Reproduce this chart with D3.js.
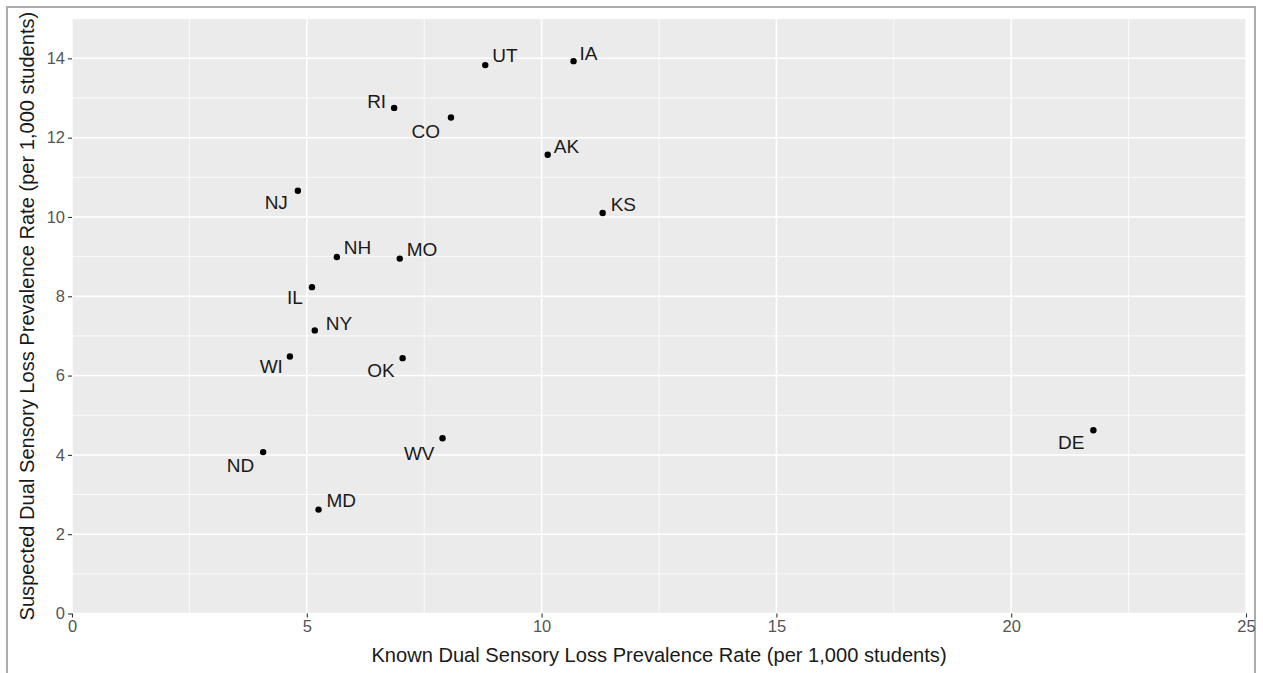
<!DOCTYPE html>
<html>
<head>
<meta charset="utf-8">
<script src="https://cdn.jsdelivr.net/npm/d3@7"></script>
<style>
  body { margin: 0; background: #fff; }
  svg text { font-family: "Liberation Sans", Arial, sans-serif; }
  .axis-title { fill: #1a1a1a; font-size: 20.1px; }
  .pt-label { fill: #1a1a1a; font-size: 19px; }
</style>
</head>
<body>
<svg id="chart"></svg>
<script>
// data
const states = ["UT", "IA", "RI", "CO", "AK", "KS", "NJ", "NH", "MO", "IL", "NY", "WI", "OK", "ND", "MD", "WV", "DE"];
const knownRate = [8.80, 10.68, 6.86, 8.07, 10.13, 11.30, 4.81, 5.64, 6.98, 5.11, 5.17, 4.64, 7.04, 4.07, 5.25, 7.89, 21.75];
const suspectedRate = [13.83, 13.93, 12.75, 12.51, 11.57, 10.10, 10.66, 8.99, 8.95, 8.23, 7.14, 6.48, 6.44, 4.07, 2.62, 4.42, 4.62];
const xTicks = [0, 5, 10, 15, 20, 25];
const yTicks = [0, 2, 4, 6, 8, 10, 12, 14];

// label nudges (px) roughly as placed in the original (repel-style)
const labelNudge = [[7, -10], [6, -8], [-8, -7], [-11, 14], [6, -9], [8, -9], [-10, 11], [7, -10], [7, -9],
                    [-9, 10], [11, -7], [-7, 10], [-8, 12], [-9, 13], [8, -9], [-8, 15], [-9, 12]];

const W = 1263, H = 673;
const margin = {top: 18.7, right: 17, bottom: 59.5, left: 72};
const width = W - margin.left - margin.right;
const height = H - margin.top - margin.bottom;

const svg = d3.select('#chart').attr('width', W).attr('height', H);

// outer frame
svg.append('rect')
  .attr('x', 7).attr('y', 7).attr('width', 1248).attr('height', 680)
  .attr('fill', 'none').attr('stroke', '#ababab').attr('stroke-width', 2);

const chart = svg.append('g').attr('transform', `translate(${margin.left},${margin.top})`);

const x = d3.scaleLinear().domain([0, 25]).range([0, width]);
const y = d3.scaleLinear().domain([0, 15]).range([height, 0]);

chart.append('rect').attr('width', width).attr('height', height).attr('fill', '#ebebeb');

// minor grid
const xMinor = d3.range(2.5, 25, 5);
const yMinor = d3.range(1, 16, 2);
chart.selectAll('.vminor').data(xMinor).join('line')
  .attr('x1', d => x(d)).attr('x2', d => x(d)).attr('y1', 0).attr('y2', height)
  .attr('stroke', '#fff').attr('stroke-width', 0.8);
chart.selectAll('.hminor').data(yMinor).join('line')
  .attr('y1', d => y(d)).attr('y2', d => y(d)).attr('x1', 0).attr('x2', width)
  .attr('stroke', '#fff').attr('stroke-width', 0.8);

// major grid
chart.selectAll('.vmajor').data(xTicks).join('line')
  .attr('x1', d => x(d)).attr('x2', d => x(d)).attr('y1', 0).attr('y2', height)
  .attr('stroke', '#fff').attr('stroke-width', 1.5);
chart.selectAll('.hmajor').data(yTicks).join('line')
  .attr('y1', d => y(d)).attr('y2', d => y(d)).attr('x1', 0).attr('x2', width)
  .attr('stroke', '#fff').attr('stroke-width', 1.5);

// axes
const xAxis = d3.axisBottom(x).tickValues(xTicks).tickSize(4).tickPadding(3).tickSizeOuter(0);
const yAxis = d3.axisLeft(y).tickValues(yTicks).tickSize(4).tickPadding(3).tickSizeOuter(0);

const xAxisG = chart.append('g').attr('transform', `translate(0,${height})`).call(xAxis);
const yAxisG = chart.append('g').call(yAxis);
[xAxisG, yAxisG].forEach(g => {
  g.select('.domain').remove();
  g.selectAll('.tick line').attr('stroke', '#333').attr('stroke-width', 1.1);
  g.selectAll('.tick text')
    .style('font-size', '16.5px')
    .style('font-family', '"Liberation Sans", Arial, sans-serif')
    .style('fill', '#555');
});

// axis titles
chart.append('text')
  .attr('class', 'axis-title')
  .attr('text-anchor', 'middle')
  .attr('x', width / 2)
  .attr('y', height + 49)
  .text('Known Dual Sensory Loss Prevalence Rate (per 1,000 students)');

chart.append('text')
  .attr('class', 'axis-title')
  .attr('text-anchor', 'middle')
  .attr('transform', 'rotate(-90)')
  .attr('x', -height / 2)
  .attr('y', -38)
  .text('Suspected Dual Sensory Loss Prevalence Rate (per 1,000 students)');

// points
const idx = d3.range(states.length);
chart.selectAll('.pt').data(idx).join('circle')
  .attr('class', 'pt')
  .attr('cx', i => x(knownRate[i]))
  .attr('cy', i => y(suspectedRate[i]))
  .attr('r', 3.2)
  .attr('fill', '#000');

chart.selectAll('.pt-label').data(idx).join('text')
  .attr('class', 'pt-label')
  .attr('x', i => x(knownRate[i]) + labelNudge[i][0])
  .attr('y', i => y(suspectedRate[i]) + labelNudge[i][1])
  .attr('dy', '0.36em')
  .attr('text-anchor', i => labelNudge[i][0] > 0 ? 'start' : 'end')
  .text(i => states[i]);
</script>
</body>
</html>
